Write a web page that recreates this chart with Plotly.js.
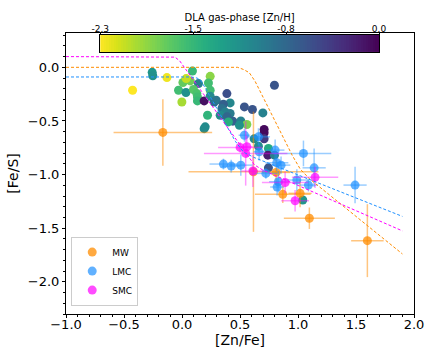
<!DOCTYPE html>
<html>
<head>
<meta charset="utf-8">
<script src="https://cdn.plot.ly/plotly-3.0.1.min.js"></script>
<style>
  body { margin: 0; background: white; }
  #fe_plot { width: 436px; height: 349px; }
</style>
</head>
<body>
<div id="fe_plot"></div>
<script>
// DLA points, coloured by gas-phase [Zn/H]
let dlaZnFe = [-0.257, -0.252, -0.130, -0.426, 0.090, 0.243, 0.008, 0.071, 0.036, 0.142,
  0.228, -0.030, 0.034, 0.099, 0.128, 0.133, 0.133, 0.243, -0.001, 0.191,
  0.243, 0.277, 0.295, 0.387, 0.415, 0.357, 0.538, 0.607, 0.697, 0.344,
  0.372, 0.415, 0.329, 0.387, 0.438, 0.507, 0.559, 0.495, 0.400, 0.220,
  0.200, 0.191, 0.708, 0.708, 0.708, 0.622, 0.659, 0.745, 0.740, 0.797,
  0.745, 1.041, 0.797];
let dlaFeS = [-0.047, -0.079, -0.096, -0.214, -0.034, -0.084, -0.142, -0.127, -0.105, -0.152,
  -0.146, -0.214, -0.235, -0.207, -0.245, -0.276, -0.313, -0.214, -0.323, -0.313,
  -0.270, -0.323, -0.307, -0.245, -0.332, -0.344, -0.369, -0.393, -0.425, -0.384,
  -0.416, -0.431, -0.447, -0.462, -0.502, -0.500, -0.533, -0.540, -0.509, -0.447,
  -0.555, -0.572, -0.580, -0.611, -0.667, -0.667, -0.735, -0.756, -0.819, -0.819,
  -0.937, -1.237, -0.167];
let dlaZnH = [-1.2, -1.15, -2.25, -2.3, -1.55, -1.9, -1.75, -1.8, -2.1, -1.0,
  -1.6, -1.6, -1.15, -1.7, -1.65, -1.6, -1.55, -1.6, -2.0, -0.1,
  -1.1, -0.8, -0.9, -0.55, -1.05, -0.7, -0.6, -0.6, -1.0, -0.85,
  -1.0, -0.95, -1.1, -0.75, -0.7, -1.0, -1.85, -1.15, -1.45, -1.5,
  -1.1, -1.1, -0.05, -0.05, -0.4, -1.1, -1.1, -1.4, -0.2, -1.0,
  -0.6, -1.2, -0.6];

// Milky Way
let mwZnFe = [-0.165, 0.616, 0.811, 0.869, 1.018, 1.098, 1.598];
let mwFeS = [-0.607, -0.974, -0.980, -1.184, -1.175, -1.407, -1.616];
let mwXerr = [0.425, 0.56, 0.12, 0.24, 0.10, 0.22, 0.14];
let mwYerr = [0.31, 0.56, 0.12, 0.08, 0.13, 0.10, 0.34];

// LMC
let lmcZnFe = [0.357, 0.424, 0.507, 0.538, 0.659, 0.665, 0.803, 0.817, 0.854, 1.047,
  1.139, 0.723, 0.831, 0.820, 0.990, 1.090, 1.492];
let lmcFeS = [-0.902, -0.921, -0.912, -0.633, -0.648, -0.788, -0.772, -0.890, -0.912, -0.803,
  -0.937, -0.989, -1.067, -1.116, -1.051, -1.098, -1.098];
let lmcXerr = [0.12, 0.08, 0.10, 0.05, 0.10, 0.05, 0.08, 0.10, 0.08, 0.24,
  0.10, 0.10, 0.08, 0.06, 0.10, 0.08, 0.10];
let lmcYerr = [0.05, 0.06, 0.10, 0.06, 0.08, 0.08, 0.10, 0.08, 0.08, 0.12,
  0.18, 0.05, 0.10, 0.08, 0.10, 0.06, 0.17];

// SMC
let smcZnFe = [0.501, 0.559, 0.549, 0.611, 0.889, 0.975, 1.147];
let smcFeS = [-0.747, -0.741, -0.803, -0.967, -1.074, -1.244, -1.026];
let smcXerr = [0.19, 0.05, 0.36, 0.10, 0.20, 0.12, 0.20];
let smcYerr = [0.05, 0.10, 0.30, 0.15, 0.10, 0.10, 0.10];

// depletion curves
let mwCurveX = [-1.0, 0.48, 0.53, 0.58, 0.63, 0.95, 1.02, 1.10, 1.90];
let mwCurveY = [0.0, 0.0, -0.02, -0.05, -0.13, -0.82, -0.95, -1.04, -1.74];
let lmcCurveX = [-1.0, 0.08, 0.13, 0.16, 0.21, 0.46, 0.53, 0.62, 1.90];
let lmcCurveY = [-0.09, -0.09, -0.10, -0.12, -0.21, -0.69, -0.79, -0.84, -1.39];
let smcCurveX = [-1.0, -0.10, -0.06, -0.02, 0.56, 0.625, 0.70, 1.90];
let smcCurveY = [0.10, 0.10, 0.095, 0.06, -0.82, -0.91, -0.96, -1.525];

// colour bar
let cbarMin = -2.3;
let cbarMax = 0.0;
let cbarTickVals = [-2.3, -1.533, -0.767, 0.0];
let cbarTickText = ["-2.3", "-1.5", "-0.8", "0.0"];

let orange = 'rgba(255,140,0,0.75)';
let orangeErr = 'rgba(255,140,0,0.5)';
let blue = 'rgba(30,144,255,0.7)';
let blueErr = 'rgba(30,144,255,0.45)';
let magenta = 'rgba(255,0,255,0.7)';
let magentaErr = 'rgba(255,0,255,0.4)';

function curveTrace(x, y, color) {
  return {
    x: x, y: y, type: 'scatter', mode: 'lines',
    line: { color: color, width: 1, dash: '3px,2px' },
    showlegend: false, hoverinfo: 'skip'
  };
}

function sampleTrace(x, y, xerr, yerr, name, color, errColor) {
  return {
    x: x, y: y, type: 'scatter', mode: 'markers', name: name,
    marker: { size: 9, color: color },
    error_x: { type: 'data', array: xerr, color: errColor, thickness: 1.5, width: 0 },
    error_y: { type: 'data', array: yerr, color: errColor, thickness: 1.5, width: 0 }
  };
}

// gradient strip for the colour bar
let cbarX = [];
let cbarZ = [];
for (let i = 0; i <= 115; i++) {
  let v = cbarMin + (cbarMax - cbarMin) * i / 115;
  cbarX.push(v);
  cbarZ.push(v);
}

let dlaTrace = {
  x: dlaZnFe, y: dlaFeS, type: 'scatter', mode: 'markers',
  marker: {
    size: 9, color: dlaZnH, colorscale: 'Viridis', reversescale: true,
    cmin: cbarMin, cmax: cbarMax, showscale: false
  },
  showlegend: false
};

let cbarTrace = {
  x: cbarX, y: [0.5], z: [cbarZ], type: 'heatmap',
  xaxis: 'x2', yaxis: 'y2',
  colorscale: 'Viridis', reversescale: true, zmin: cbarMin, zmax: cbarMax,
  showscale: false, hoverinfo: 'skip'
};

let data = [
  dlaTrace,
  sampleTrace(mwZnFe, mwFeS, mwXerr, mwYerr, 'MW', orange, orangeErr),
  sampleTrace(lmcZnFe, lmcFeS, lmcXerr, lmcYerr, 'LMC', blue, blueErr),
  sampleTrace(smcZnFe, smcFeS, smcXerr, smcYerr, 'SMC', magenta, magentaErr),
  curveTrace(mwCurveX, mwCurveY, 'rgb(255,140,0)'),
  curveTrace(lmcCurveX, lmcCurveY, 'rgb(30,144,255)'),
  curveTrace(smcCurveX, smcCurveY, 'rgb(255,0,255)'),
  cbarTrace
];

let axisFont = { family: 'DejaVu Sans', size: 13, color: 'black' };

let layout = {
  width: 436, height: 349,
  margin: { l: 66, r: 22, t: 33, b: 35 },
  font: { family: 'DejaVu Sans', color: 'black' },
  plot_bgcolor: 'white',
  paper_bgcolor: 'white',
  xaxis: {
    range: [-1, 2], dtick: 0.5, tick0: 0, tickformat: '.1f',
    ticks: 'outside', ticklen: 3, tickcolor: 'black',
    minor: { ticks: 'outside', dtick: 0.1, ticklen: 2, tickcolor: 'black' },
    showline: true, mirror: true, linecolor: 'black', linewidth: 1,
    showgrid: false, zeroline: false, tickfont: axisFont,
    ticklabelstandoff: -5, automargin: false,
    title: { text: '[Zn/Fe]', font: { size: 14 }, standoff: 0 }
  },
  yaxis: {
    range: [-2.3, 0.32], dtick: 0.5, tick0: 0, tickformat: '.1f',
    ticks: 'outside', ticklen: 3, tickcolor: 'black',
    minor: { ticks: 'outside', dtick: 0.1, ticklen: 2, tickcolor: 'black' },
    showline: true, mirror: true, linecolor: 'black', linewidth: 1,
    showgrid: false, zeroline: false, tickfont: axisFont,
    automargin: false,
    title: { text: '[Fe/S]', font: { size: 14 }, standoff: 5 }
  },
  xaxis2: {
    domain: [0.0985, 0.8995], anchor: 'y2', side: 'top',
    range: [cbarMin, cbarMax], tickvals: cbarTickVals, ticktext: cbarTickText,
    ticks: 'outside', ticklen: 2, tickcolor: 'black',
    tickfont: { size: 9 }, ticklabelstandoff: -4, automargin: false,
    showline: true, mirror: true, linecolor: 'black', linewidth: 1,
    showgrid: false, zeroline: false,
    title: { text: 'DLA gas-phase [Zn/H]', font: { size: 10 }, standoff: 0 }
  },
  yaxis2: {
    domain: [0.932, 0.993], anchor: 'x2', range: [0, 1],
    showticklabels: false, ticks: '',
    showline: true, mirror: true, linecolor: 'black', linewidth: 1,
    showgrid: false, zeroline: false
  },
  legend: {
    x: 0.015, y: 0.03, xanchor: 'left', yanchor: 'bottom',
    bgcolor: 'white', bordercolor: '#cccccc', borderwidth: 1,
    font: { size: 9 }, itemsizing: 'trace', itemwidth: 30, tracegroupgap: 0
  },
  showlegend: true
};

Plotly.newPlot('fe_plot', data, layout, { displayModeBar: false, staticPlot: true });
</script>
</body>
</html>
